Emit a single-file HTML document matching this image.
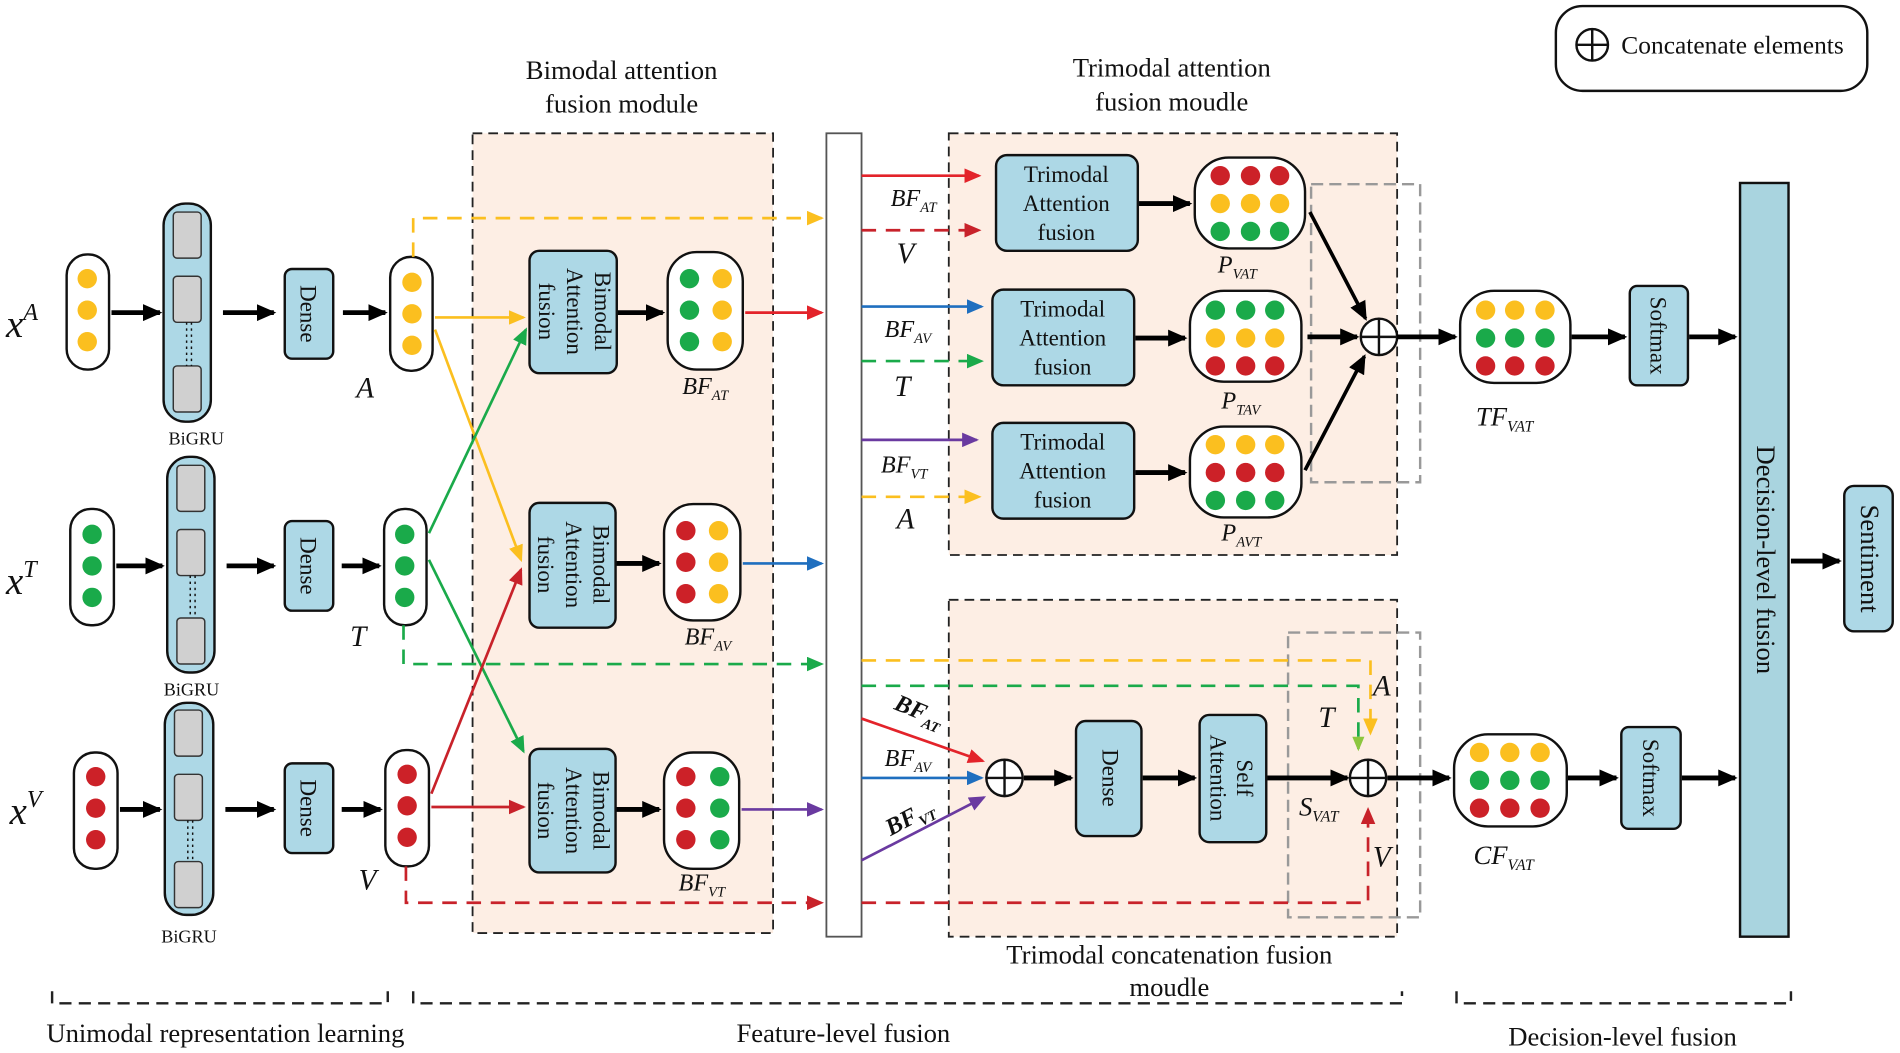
<!DOCTYPE html>
<html><head><meta charset="utf-8"><style>
html,body{margin:0;padding:0;background:#fff}
svg{display:block}
text{font-family:"Liberation Serif",serif;fill:#111}
.i{font-style:italic}
</style></head><body>
<svg width="1900" height="1053" viewBox="0 0 1568 869" preserveAspectRatio="none" xmlns="http://www.w3.org/2000/svg">
<defs>
<marker id="kb" markerWidth="16" markerHeight="14" refX="14" refY="7" orient="auto" markerUnits="userSpaceOnUse"><path d="M0,0 L16,7 L0,14 z" fill="#000"/></marker>
<marker id="r" markerWidth="14" markerHeight="12" refX="12" refY="6" orient="auto" markerUnits="userSpaceOnUse"><path d="M0,0 L14,6 L0,12 z" fill="#e3232a"/></marker>
<marker id="dr" markerWidth="14" markerHeight="12" refX="12" refY="6" orient="auto" markerUnits="userSpaceOnUse"><path d="M0,0 L14,6 L0,12 z" fill="#c8222a"/></marker>
<marker id="b" markerWidth="14" markerHeight="12" refX="12" refY="6" orient="auto" markerUnits="userSpaceOnUse"><path d="M0,0 L14,6 L0,12 z" fill="#1f6fbf"/></marker>
<marker id="g" markerWidth="14" markerHeight="12" refX="12" refY="6" orient="auto" markerUnits="userSpaceOnUse"><path d="M0,0 L14,6 L0,12 z" fill="#1aaa4a"/></marker>
<marker id="y" markerWidth="14" markerHeight="12" refX="12" refY="6" orient="auto" markerUnits="userSpaceOnUse"><path d="M0,0 L14,6 L0,12 z" fill="#fbbf1f"/></marker>
<marker id="p" markerWidth="14" markerHeight="12" refX="12" refY="6" orient="auto" markerUnits="userSpaceOnUse"><path d="M0,0 L14,6 L0,12 z" fill="#6a3aa0"/></marker>
<marker id="lg" markerWidth="12" markerHeight="10" refX="10" refY="5" orient="auto" markerUnits="userSpaceOnUse"><path d="M0,0 L12,5 L0,10 z" fill="#8cc63f"/></marker>
</defs>

<rect x="390" y="110" width="248" height="660" fill="#fdeee4" stroke="#222" stroke-width="1.5" stroke-dasharray="8,5"/>
<rect x="783" y="110" width="370" height="348" fill="#fdeee4" stroke="#222" stroke-width="1.5" stroke-dasharray="8,5"/>
<rect x="783" y="495" width="370" height="278" fill="#fdeee4" stroke="#222" stroke-width="1.5" stroke-dasharray="8,5"/>
<rect x="1082" y="152" width="90" height="246" fill="none" stroke="#999" stroke-width="2" stroke-dasharray="10,5"/>
<rect x="1063" y="522" width="109" height="235" fill="none" stroke="#999" stroke-width="2" stroke-dasharray="10,5"/>
<rect x="682" y="110" width="29" height="663" fill="#fff" stroke="#555" stroke-width="1.5"/>

<rect x="1284" y="5" width="257" height="70" rx="22" fill="#fff" stroke="#111" stroke-width="2"/>
<circle cx="1314" cy="37" r="13" fill="#fff" stroke="#111" stroke-width="2"/><path d="M1301,37H1327M1314,24V50" stroke="#111" stroke-width="2"/>
<text x="1338" y="44" font-size="21">Concatenate elements</text>

<text x="513" y="65" font-size="22" text-anchor="middle">Bimodal attention</text>
<text x="513" y="93" font-size="22" text-anchor="middle">fusion module</text>
<text x="967" y="63" font-size="22" text-anchor="middle">Trimodal attention</text>
<text x="967" y="91" font-size="22" text-anchor="middle">fusion moudle</text>

<text x="5" y="278" font-size="32" class="i">x<tspan font-size="20" dy="-14">A</tspan></text>
<text x="5" y="490" font-size="32" class="i">x<tspan font-size="20" dy="-14">T</tspan></text>
<text x="8" y="680" font-size="32" class="i">x<tspan font-size="20" dy="-14">V</tspan></text>

<g stroke="#111" stroke-width="2" fill="#fff">
<rect x="55" y="210" width="35" height="95" rx="17"/>
<rect x="58" y="420" width="36" height="96" rx="17"/>
<rect x="61" y="621" width="36" height="96" rx="17"/>
<rect x="322" y="212" width="35" height="94" rx="17"/>
<rect x="317" y="420" width="35" height="96" rx="17"/>
<rect x="318" y="619" width="36" height="96" rx="17"/>
</g>
<g fill="#fbbf1f"><circle cx="72" cy="230" r="8"/><circle cx="72" cy="256" r="8"/><circle cx="72" cy="282" r="8"/>
<circle cx="340" cy="233" r="8"/><circle cx="340" cy="259" r="8"/><circle cx="340" cy="285" r="8"/></g>
<g fill="#1aaa4a"><circle cx="76" cy="441" r="8"/><circle cx="76" cy="467" r="8"/><circle cx="76" cy="493" r="8"/>
<circle cx="334" cy="441" r="8"/><circle cx="334" cy="467" r="8"/><circle cx="334" cy="493" r="8"/></g>
<g fill="#cc2128"><circle cx="79" cy="641" r="8"/><circle cx="79" cy="667" r="8"/><circle cx="79" cy="693" r="8"/>
<circle cx="336" cy="639" r="8"/><circle cx="336" cy="665" r="8"/><circle cx="336" cy="691" r="8"/></g>

<g stroke="#111" stroke-width="2">
<rect x="135" y="168" width="39" height="180" rx="18" fill="#add8e6"/>
<rect x="138" y="377" width="39" height="178" rx="18" fill="#add8e6"/>
<rect x="136" y="580" width="40" height="175" rx="18" fill="#add8e6"/>
</g>
<g fill="#d0d0d0" stroke="#333" stroke-width="1.2">
<rect x="143" y="175" width="23" height="38" rx="3"/><rect x="143" y="228" width="23" height="38" rx="3"/><rect x="143" y="302" width="23" height="38" rx="3"/>
<rect x="146" y="384" width="23" height="38" rx="3"/><rect x="146" y="437" width="23" height="38" rx="3"/><rect x="146" y="510" width="23" height="38" rx="3"/>
<rect x="144" y="586" width="23" height="38" rx="3"/><rect x="144" y="639" width="23" height="38" rx="3"/><rect x="144" y="711" width="23" height="38" rx="3"/>
</g>
<g stroke="#111" stroke-width="1.2" stroke-dasharray="2,3">
<path d="M154,266V302M158,266V302"/><path d="M157,475V510M161,475V510"/><path d="M155,677V711M159,677V711"/>
</g>
<g font-size="15" text-anchor="middle"><text x="162" y="367">BiGRU</text><text x="158" y="574">BiGRU</text><text x="156" y="778">BiGRU</text></g>

<g fill="#add8e6" stroke="#111" stroke-width="2">
<rect x="235" y="222" width="40" height="74" rx="6"/><rect x="235" y="430" width="40" height="74" rx="6"/><rect x="235" y="630" width="40" height="74" rx="6"/>
</g>
<g font-size="19"><text transform="translate(248,259) rotate(90)" text-anchor="middle">Dense</text>
<text transform="translate(248,467) rotate(90)" text-anchor="middle">Dense</text>
<text transform="translate(248,667) rotate(90)" text-anchor="middle">Dense</text></g>

<g stroke="#000" stroke-width="4" marker-end="url(#kb)">
<path d="M92,258H132"/><path d="M184,258H226"/><path d="M283,258H318"/>
<path d="M96,467H134"/><path d="M187,467H226"/><path d="M282,467H313"/>
<path d="M99,668H132"/><path d="M186,668H226"/><path d="M282,668H314"/>
<path d="M509,258H547"/><path d="M508,465H544"/><path d="M508,668H544"/>
</g>
<text x="294" y="328" font-size="24" class="i">A</text>
<text x="289" y="533" font-size="24" class="i">T</text>
<text x="296" y="734" font-size="24" class="i">V</text>

<g fill="#add8e6" stroke="#111" stroke-width="2">
<rect x="437" y="207" width="72" height="101" rx="8"/><rect x="437" y="415" width="71" height="103" rx="8"/><rect x="437" y="618" width="71" height="102" rx="8"/>
</g>
<g font-size="19" text-anchor="middle">
<text transform="translate(473,257) rotate(90)"><tspan x="0" y="-18">Bimodal</tspan><tspan x="0" y="5">Attention</tspan><tspan x="0" y="28">fusion</tspan></text>
<text transform="translate(472,466) rotate(90)"><tspan x="0" y="-18">Bimodal</tspan><tspan x="0" y="5">Attention</tspan><tspan x="0" y="28">fusion</tspan></text>
<text transform="translate(472,669) rotate(90)"><tspan x="0" y="-18">Bimodal</tspan><tspan x="0" y="5">Attention</tspan><tspan x="0" y="28">fusion</tspan></text>
</g>

<g stroke="#111" stroke-width="2" fill="#fff">
<rect x="551" y="208" width="62" height="97" rx="24"/><rect x="548" y="416" width="63" height="96" rx="24"/><rect x="548" y="621" width="62" height="96" rx="24"/>
</g>
<g fill="#1aaa4a"><circle cx="569" cy="230" r="8"/><circle cx="569" cy="256" r="8"/><circle cx="569" cy="282" r="8"/>
<circle cx="594" cy="641" r="8"/><circle cx="594" cy="667" r="8"/><circle cx="594" cy="693" r="8"/></g>
<g fill="#fbbf1f"><circle cx="596" cy="230" r="8"/><circle cx="596" cy="256" r="8"/><circle cx="596" cy="282" r="8"/>
<circle cx="593" cy="438" r="8"/><circle cx="593" cy="464" r="8"/><circle cx="593" cy="490" r="8"/></g>
<g fill="#cc2128"><circle cx="566" cy="438" r="8"/><circle cx="566" cy="464" r="8"/><circle cx="566" cy="490" r="8"/>
<circle cx="566" cy="641" r="8"/><circle cx="566" cy="667" r="8"/><circle cx="566" cy="693" r="8"/></g>
<g font-size="20" class="i">
<text x="563" y="325">BF<tspan font-size="12" dy="5">AT</tspan></text>
<text x="565" y="532">BF<tspan font-size="12" dy="5">AV</tspan></text>
<text x="560" y="735">BF<tspan font-size="12" dy="5">VT</tspan></text>
</g>

<g stroke-width="2.2" fill="none">
<path d="M341,212V180H678" stroke="#fbbf1f" stroke-dasharray="12,8" marker-end="url(#y)"/>
<path d="M359,262H432" stroke="#fbbf1f" marker-end="url(#y)"/>
<path d="M359,272L430,462" stroke="#fbbf1f" marker-end="url(#y)"/>
<path d="M354,440L434,272" stroke="#1aaa4a" marker-end="url(#g)"/>
<path d="M354,462L432,620" stroke="#1aaa4a" marker-end="url(#g)"/>
<path d="M333,516V548H678" stroke="#1aaa4a" stroke-dasharray="12,8" marker-end="url(#g)"/>
<path d="M356,655L430,470" stroke="#c8222a" marker-end="url(#dr)"/>
<path d="M356,666H432" stroke="#c8222a" marker-end="url(#dr)"/>
<path d="M335,715V745H678" stroke="#c8222a" stroke-dasharray="12,8" marker-end="url(#dr)"/>
<path d="M615,258H678" stroke="#e3232a" marker-end="url(#r)"/>
<path d="M613,465H678" stroke="#1f6fbf" marker-end="url(#b)"/>
<path d="M612,668H678" stroke="#6a3aa0" marker-end="url(#p)"/>
<path d="M711,145H808" stroke="#e3232a" marker-end="url(#r)"/>
<path d="M711,190H808" stroke="#c8222a" stroke-dasharray="12,8" marker-end="url(#dr)"/>
<path d="M711,253H810" stroke="#1f6fbf" marker-end="url(#b)"/>
<path d="M711,298H810" stroke="#1aaa4a" stroke-dasharray="12,8" marker-end="url(#g)"/>
<path d="M711,363H806" stroke="#6a3aa0" marker-end="url(#p)"/>
<path d="M711,410H808" stroke="#fbbf1f" stroke-dasharray="12,8" marker-end="url(#y)"/>
<path d="M711,545H1131V605" stroke="#fbbf1f" stroke-dasharray="12,8" marker-end="url(#y)"/>
<path d="M711,566H1121V618" stroke="#1aaa4a" stroke-dasharray="12,8" marker-end="url(#lg)"/>
<path d="M711,745H1129V668" stroke="#c8222a" stroke-dasharray="12,8" marker-end="url(#dr)"/>
<path d="M711,593L811,628" stroke="#e3232a" marker-end="url(#r)"/>
<path d="M711,642H810" stroke="#1f6fbf" marker-end="url(#b)"/>
<path d="M711,710L812,658" stroke="#6a3aa0" marker-end="url(#p)"/>
</g>
<g font-size="20" class="i">
<text x="735" y="170">BF<tspan font-size="12" dy="5">AT</tspan></text>
<text x="740" y="217" font-size="24">V</text>
<text x="730" y="278">BF<tspan font-size="12" dy="5">AV</tspan></text>
<text x="738" y="327" font-size="24">T</text>
<text x="727" y="390">BF<tspan font-size="12" dy="5">VT</tspan></text>
<text x="740" y="436" font-size="24">A</text>
<text x="1133" y="574" font-size="24">A</text>
<text x="1088" y="600" font-size="24">T</text>
<text x="1133" y="715" font-size="24">V</text>
<text x="730" y="632">BF<tspan font-size="12" dy="5">AV</tspan></text>
<text transform="translate(737,585) rotate(22)" font-weight="bold">BF<tspan font-size="12" dy="5">AT</tspan></text>
<text transform="translate(735,690) rotate(-28)" font-weight="bold">BF<tspan font-size="12" dy="5">VT</tspan></text>
<text x="1072" y="673" font-size="22">S<tspan font-size="13" dy="5">VAT</tspan></text>
<text x="1005" y="225">P<tspan font-size="12" dy="5">VAT</tspan></text>
<text x="1008" y="337">P<tspan font-size="12" dy="5">TAV</tspan></text>
<text x="1008" y="446">P<tspan font-size="12" dy="5">AVT</tspan></text>
<text x="1218" y="351" font-size="22">TF<tspan font-size="13" dy="5">VAT</tspan></text>
<text x="1216" y="713" font-size="22">CF<tspan font-size="13" dy="5">VAT</tspan></text>
</g>

<g fill="#add8e6" stroke="#111" stroke-width="2">
<rect x="822" y="128" width="117" height="79" rx="9"/><rect x="819" y="239" width="117" height="79" rx="9"/><rect x="819" y="349" width="117" height="79" rx="9"/>
</g>
<g font-size="19" text-anchor="middle">
<text x="880" y="150">Trimodal</text><text x="880" y="174">Attention</text><text x="880" y="198">fusion</text>
<text x="877" y="261">Trimodal</text><text x="877" y="285">Attention</text><text x="877" y="309">fusion</text>
<text x="877" y="371">Trimodal</text><text x="877" y="395">Attention</text><text x="877" y="419">fusion</text>
</g>
<g stroke="#111" stroke-width="2" fill="#fff">
<rect x="986" y="130" width="91" height="75" rx="28"/><rect x="982" y="240" width="92" height="75" rx="28"/><rect x="982" y="352" width="92" height="75" rx="28"/>
<rect x="1205" y="240" width="91" height="76" rx="28"/><rect x="1200" y="606" width="93" height="76" rx="28"/>
</g>
<g>
<circle cx="1007" cy="145" r="8" fill="#cc2128"/><circle cx="1032" cy="145" r="8" fill="#cc2128"/><circle cx="1056" cy="145" r="8" fill="#cc2128"/>
<circle cx="1007" cy="168" r="8" fill="#fbbf1f"/><circle cx="1032" cy="168" r="8" fill="#fbbf1f"/><circle cx="1056" cy="168" r="8" fill="#fbbf1f"/>
<circle cx="1007" cy="191" r="8" fill="#1aaa4a"/><circle cx="1032" cy="191" r="8" fill="#1aaa4a"/><circle cx="1056" cy="191" r="8" fill="#1aaa4a"/>
<circle cx="1003" cy="256" r="8" fill="#1aaa4a"/><circle cx="1028" cy="256" r="8" fill="#1aaa4a"/><circle cx="1052" cy="256" r="8" fill="#1aaa4a"/>
<circle cx="1003" cy="279" r="8" fill="#fbbf1f"/><circle cx="1028" cy="279" r="8" fill="#fbbf1f"/><circle cx="1052" cy="279" r="8" fill="#fbbf1f"/>
<circle cx="1003" cy="302" r="8" fill="#cc2128"/><circle cx="1028" cy="302" r="8" fill="#cc2128"/><circle cx="1052" cy="302" r="8" fill="#cc2128"/>
<circle cx="1003" cy="367" r="8" fill="#fbbf1f"/><circle cx="1028" cy="367" r="8" fill="#fbbf1f"/><circle cx="1052" cy="367" r="8" fill="#fbbf1f"/>
<circle cx="1003" cy="390" r="8" fill="#cc2128"/><circle cx="1028" cy="390" r="8" fill="#cc2128"/><circle cx="1052" cy="390" r="8" fill="#cc2128"/>
<circle cx="1003" cy="413" r="8" fill="#1aaa4a"/><circle cx="1028" cy="413" r="8" fill="#1aaa4a"/><circle cx="1052" cy="413" r="8" fill="#1aaa4a"/>
<circle cx="1226" cy="256" r="8" fill="#fbbf1f"/><circle cx="1250" cy="256" r="8" fill="#fbbf1f"/><circle cx="1275" cy="256" r="8" fill="#fbbf1f"/>
<circle cx="1226" cy="279" r="8" fill="#1aaa4a"/><circle cx="1250" cy="279" r="8" fill="#1aaa4a"/><circle cx="1275" cy="279" r="8" fill="#1aaa4a"/>
<circle cx="1226" cy="302" r="8" fill="#cc2128"/><circle cx="1250" cy="302" r="8" fill="#cc2128"/><circle cx="1275" cy="302" r="8" fill="#cc2128"/>
<circle cx="1221" cy="621" r="8" fill="#fbbf1f"/><circle cx="1246" cy="621" r="8" fill="#fbbf1f"/><circle cx="1271" cy="621" r="8" fill="#fbbf1f"/>
<circle cx="1221" cy="644" r="8" fill="#1aaa4a"/><circle cx="1246" cy="644" r="8" fill="#1aaa4a"/><circle cx="1271" cy="644" r="8" fill="#1aaa4a"/>
<circle cx="1221" cy="667" r="8" fill="#cc2128"/><circle cx="1246" cy="667" r="8" fill="#cc2128"/><circle cx="1271" cy="667" r="8" fill="#cc2128"/>
</g>

<g fill="#add8e6" stroke="#111" stroke-width="2">
<rect x="888" y="595" width="54" height="95" rx="8"/><rect x="990" y="590" width="55" height="105" rx="8"/>
<rect x="1345" y="236" width="48" height="82" rx="6"/><rect x="1338" y="600" width="49" height="84" rx="6"/>
<rect x="1436" y="151" width="40" height="622" fill="#a9d4df"/>
<rect x="1522" y="401" width="40" height="120" rx="8"/>
</g>
<g font-size="19" text-anchor="middle">
<text transform="translate(910,642) rotate(90)">Dense</text>
<text transform="translate(1017,642) rotate(90)"><tspan x="0" y="-4">Self</tspan><tspan x="0" y="18">Attention</tspan></text>
<text transform="translate(1362,277) rotate(90)">Softmax</text>
<text transform="translate(1356,642) rotate(90)">Softmax</text>
<text transform="translate(1450,462) rotate(90)" font-size="22">Decision-level  fusion</text>
<text transform="translate(1536,461) rotate(90)" font-size="22">Sentiment</text>
</g>

<g fill="#fff" stroke="#111" stroke-width="2">
<circle cx="1138" cy="278" r="15"/><circle cx="829" cy="642" r="15"/><circle cx="1129" cy="642" r="15"/>
</g>
<path d="M1123,278H1153M1138,263V293M814,642H844M829,627V657M1114,642H1144M1129,627V657" stroke="#111" stroke-width="2"/>

<g stroke="#000" stroke-width="4" marker-end="url(#kb)">
<path d="M940,168H982"/><path d="M937,279H978"/><path d="M937,390H978"/>
<path d="M1079,278H1120"/><path d="M1153,278H1201"/><path d="M1297,278H1341"/><path d="M1394,278H1432"/>
<path d="M845,642H884"/><path d="M943,642H986"/><path d="M1046,642H1112"/><path d="M1145,642H1196"/><path d="M1294,642H1334"/><path d="M1388,642H1432"/>
<path d="M1478,463H1518"/>
</g>
<g stroke="#000" stroke-width="3" marker-end="url(#kb)">
<path d="M1081,175L1127,263"/><path d="M1077,388L1126,294"/>
</g>

<text x="965" y="795" font-size="22" text-anchor="middle">Trimodal concatenation fusion</text>
<text x="965" y="822" font-size="22" text-anchor="middle">moudle</text>
<g stroke="#222" stroke-width="2" fill="none" stroke-dasharray="10,6">
<path d="M43,818V828H320V818"/><path d="M341,818V828H1157V818"/><path d="M1202,818V828H1478V818"/>
</g>
<g font-size="22" text-anchor="middle">
<text x="186" y="860">Unimodal representation learning</text>
<text x="696" y="860">Feature-level fusion</text>
<text x="1339" y="863">Decision-level fusion</text>
</g>
</svg>
</body></html>
